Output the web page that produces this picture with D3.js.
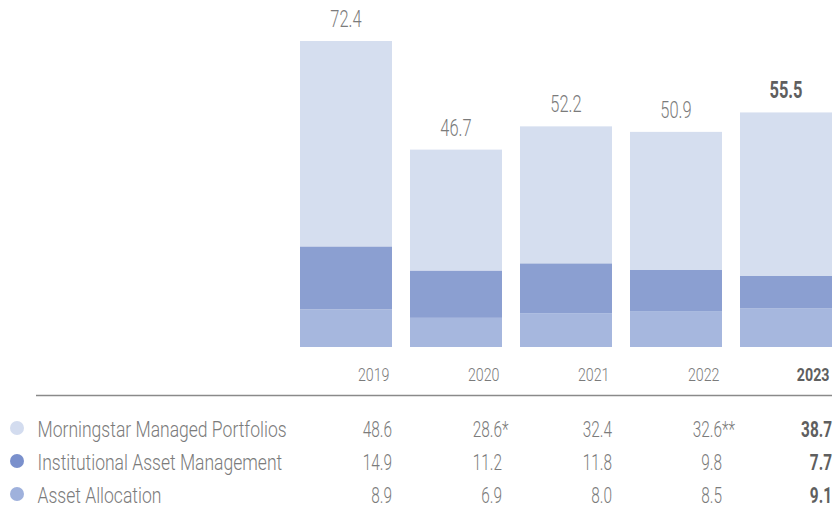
<!DOCTYPE html>
<html>
<head>
<meta charset="utf-8">
<script src="https://cdn.jsdelivr.net/npm/d3@7"></script>
<style>
  body { margin: 0; background: #fff; }
  svg text { font-family: "Roboto", "Noto Sans", sans-serif; font-weight: 300; fill: #7b7b7b; }
  svg text.bold { font-weight: bold; fill: #5f5f5f; }
</style>
</head>
<body>
<svg id="chart" width="836" height="506"></svg>
<script>
// data
const years = ["2019", "2020", "2021", "2022", "2023"];
const portfolios = [48.6, 28.6, 32.4, 32.6, 38.7];
const institutional = [14.9, 11.2, 11.8, 9.8, 7.7];
const allocation = [8.9, 6.9, 8.0, 8.5, 9.1];
const totals = [72.4, 46.7, 52.2, 50.9, 55.5];
const notes = ["", "*", "", "**", ""];
const seriesNames = ["Morningstar Managed Portfolios", "Institutional Asset Management", "Asset Allocation"];
const seriesColors = ["#d5deef", "#8b9fd1", "#a6b7de"];
const dotColors = ["#d3dcef", "#7a90cc", "#9fb1dc"];

const svg = d3.select("#chart");

// place a text at (px,py) squeezed horizontally to mimic a condensed face
function place(sel, px, py, sx = 0.7) {
	return sel.attr("transform", (d, i) => {
		const tx = typeof px === "function" ? px(d, i) : px;
		const ty = typeof py === "function" ? py(d, i) : py;
		return `translate(${tx},${ty}) scale(${sx},1)`;
	});
}

const x = d3.scaleBand()
	.domain(years)
	.range([300, 832])
	.paddingInner(18 / 110)
	.paddingOuter(0);

const y = d3.scaleLinear()
	.domain([0, d3.max(totals)])
	.range([347, 41]);

const rows = years.map((yr, i) => ({
	year: yr,
	allocation: allocation[i],
	institutional: institutional[i],
	portfolios: portfolios[i]
}));

// bottom -> top
const stack = d3.stack().keys(["allocation", "institutional", "portfolios"]);
const layers = stack(rows);
const layerColor = { allocation: seriesColors[2], institutional: seriesColors[1], portfolios: seriesColors[0] };

svg.append("g")
	.selectAll("g")
	.data(layers)
	.enter()
	.append("g")
	.attr("fill", (d) => layerColor[d.key])
	.selectAll("rect")
	.data((d) => d)
	.enter()
	.append("rect")
	.attr("x", (d) => x(d.data.year))
	.attr("width", x.bandwidth())
	.attr("y", (d) => y(d[1]))
	.attr("height", (d) => y(d[0]) - y(d[1]));

// totals above bars
const totalText = svg.append("g")
	.selectAll("text")
	.data(totals)
	.enter()
	.append("text")
	.attr("class", (d, i) => (i === years.length - 1 ? "bold" : null))
	.attr("text-anchor", "middle")
	.attr("font-size", 23.5)
	.text((d) => d.toFixed(1));
place(totalText, (d, i) => x(years[i]) + x.bandwidth() / 2, (d) => y(d) - 14);

// year labels
const yearText = svg.append("g")
	.selectAll("text")
	.data(years)
	.enter()
	.append("text")
	.attr("class", (d, i) => (i === years.length - 1 ? "bold" : null))
	.attr("text-anchor", "end")
	.attr("font-size", 19)
	.text((d) => d);
place(yearText, (d) => x(d) + x.bandwidth() - 2.5, 380.5, 0.75);

// rule
svg.append("line")
	.attr("x1", 36)
	.attr("x2", 832)
	.attr("y1", 395.5)
	.attr("y2", 395.5)
	.attr("stroke", "#8a8a8a")
	.attr("stroke-width", 1.5);

// table
const tableValues = [portfolios, institutional, allocation];
const rowY = [436.5, 469.5, 502.5];

const tableRow = svg.append("g")
	.selectAll("g")
	.data(seriesNames)
	.enter()
	.append("g")
	.attr("transform", (d, i) => `translate(0,${rowY[i]})`);

tableRow.append("circle")
	.attr("cx", 17)
	.attr("cy", -8.5)
	.attr("r", 7)
	.attr("fill", (d, i) => dotColors[i]);

place(tableRow.append("text")
	.attr("font-size", 22.5)
	.text((d) => d), 37.5, 0, 0.78);

tableRow.each(function (name, r) {
	const g = d3.select(this);
	tableValues[r].forEach((v, i) => {
		const right = x(years[i]) + x.bandwidth();
		place(g.append("text")
			.attr("class", i === years.length - 1 ? "bold" : null)
			.attr("text-anchor", "end")
			.attr("font-size", 22)
			.text(v.toFixed(1)), right, 0);
		if (r === 0 && notes[i]) {
			place(g.append("text")
				.attr("font-size", 22)
				.text(notes[i]), right, 0);
		}
	});
});
</script>
</body>
</html>
